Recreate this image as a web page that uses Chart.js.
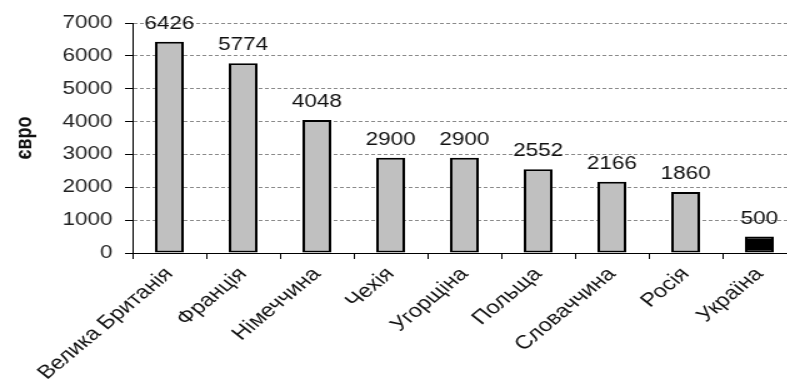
<!DOCTYPE html>
<html>
<head>
<meta charset="utf-8">
<script src="https://cdn.jsdelivr.net/npm/chart.js@4/dist/chart.umd.min.js"></script>
<style>
    html, body { margin: 0; padding: 0; background: #fff; overflow: hidden; }
    #wrap { width: 640px; height: 380px; transform: scaleX(1.25); transform-origin: 0 0; }
</style>
</head>
<body>
<div id="wrap"><canvas id="chart" width="640" height="380"></canvas></div>
<script>
// Data
var countries = ['Велика Британія', 'Франція', 'Німеччина', 'Чехія', 'Угорщіна', 'Польща', 'Словаччина', 'Росія', 'Україна'];
var salaries = [6426, 5774, 4048, 2900, 2900, 2552, 2166, 1860, 500];
var barColors = ['#c0c0c0', '#c0c0c0', '#c0c0c0', '#c0c0c0', '#c0c0c0', '#c0c0c0', '#c0c0c0', '#c0c0c0', '#000000'];
var yTicks = [0, 1000, 2000, 3000, 4000, 5000, 6000, 7000];

var FONT = 'Arial, "Liberation Sans", sans-serif';

// Value labels above the bars
var valueLabels = {
    id: 'valueLabels',
    afterDatasetsDraw: function(chart) {
        var ctx = chart.ctx;
        var meta = chart.getDatasetMeta(0);
        ctx.save();
        ctx.font = '18px ' + FONT;
        ctx.fillStyle = '#111';
        ctx.textAlign = 'center';
        ctx.textBaseline = 'alphabetic';
        meta.data.forEach(function(bar, i) {
            ctx.fillText(String(salaries[i]), bar.x, bar.y - 13);
        });
        ctx.restore();
    }
};

new Chart(document.getElementById('chart'), {
    type: 'bar',
    data: {
        labels: countries,
        datasets: [{
            data: salaries,
            backgroundColor: barColors,
            borderColor: '#000',
            borderWidth: 2,
            borderSkipped: false,
            barPercentage: 0.39,
            categoryPercentage: 1
        }]
    },
    options: {
        responsive: false,
        animation: false,
        devicePixelRatio: 1,
        layout: { padding: { top: 23, right: 3, left: 0, bottom: 0 } },
        plugins: {
            legend: { display: false },
            tooltip: { enabled: false }
        },
        scales: {
            x: {
                offset: true,
                grid: {
                    drawOnChartArea: false,
                    drawTicks: true,
                    tickLength: 6,
                    tickColor: '#000',
                    offset: true
                },
                border: { color: '#000', width: 1 },
                ticks: {
                    color: '#111',
                    font: { family: FONT, size: 19 },
                    minRotation: 46,
                    maxRotation: 46,
                    autoSkip: false,
                    padding: 4
                },
                afterFit: function(scale) { scale.height = 127; }
            },
            y: {
                min: 0,
                max: 7000,
                afterBuildTicks: function(scale) {
                    scale.ticks = yTicks.map(function(v) { return { value: v }; });
                },
                grid: {
                    color: '#8a8a8a',
                    lineWidth: 1,
                    tickLength: 6,
                    tickColor: '#000'
                },
                border: { color: '#000', width: 1, dash: [3, 2] },
                ticks: {
                    color: '#222',
                    font: { family: FONT, size: 18 },
                    padding: 10,
                    callback: function(v) { return String(v); }
                },
                title: {
                    display: true,
                    text: 'євро',
                    color: '#111',
                    font: { family: FONT, size: 18, weight: 'bold' },
                    padding: { top: 9, bottom: 4 }
                },
                afterFit: function(scale) { scale.width = 106; }
            }
        }
    },
    plugins: [valueLabels]
});
</script>
</body>
</html>
